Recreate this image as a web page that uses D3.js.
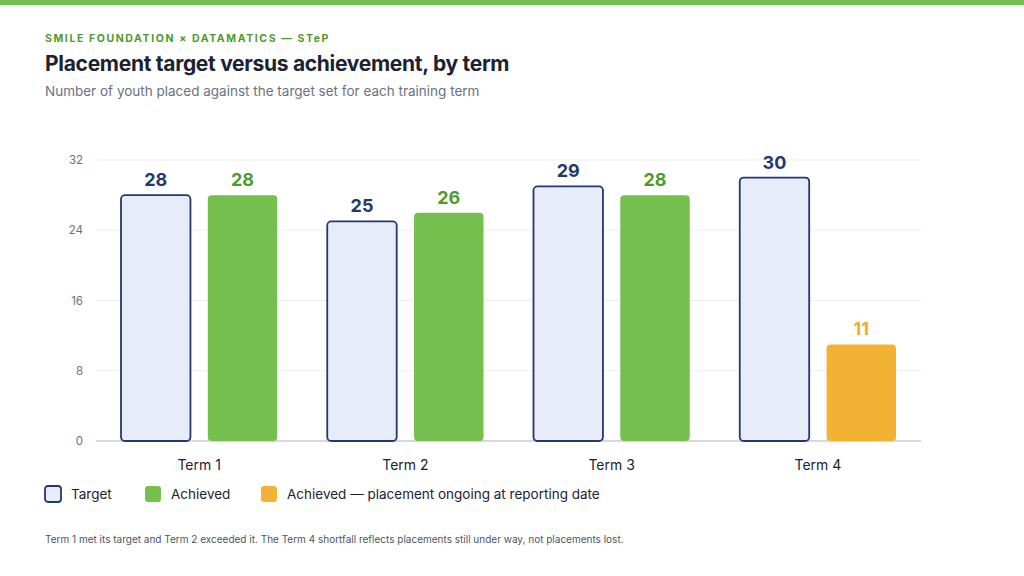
<!DOCTYPE html>
<html>
<head>
<meta charset="utf-8">
<title>Placement target versus achievement</title>
<script src="https://cdn.jsdelivr.net/npm/d3@7"></script>
<style>
  body { margin: 0; background: #fff; }
  text { font-family: Inter, "Open Sans", sans-serif; }
</style>
</head>
<body>
<div id="chart"></div>
<script>
// data
var terms = ["Term 1", "Term 2", "Term 3", "Term 4"];
var target = [28, 25, 29, 30];
var achieved = [28, 26, 28, 11];
var ongoing = [false, false, false, true];
var yTicks = [0, 8, 16, 24, 32];

var W = 1024, H = 576;
var svg = d3.select("#chart").append("svg").attr("width", W).attr("height", H);

svg.append("rect").attr("width", W).attr("height", 5).attr("fill", "#72bf4e");

svg.append("text").attr("x", 45).attr("y", 42).text("SMILE FOUNDATION × DATAMATICS — STeP")
  .attr("fill", "#4e9a2e").attr("font-size", 10.5).attr("font-weight", 700).attr("letter-spacing", 1.6);
svg.append("text").attr("x", 45).attr("y", 71).text("Placement target versus achievement, by term")
  .attr("fill", "#1b2233").attr("font-size", 21).attr("font-weight", 700).attr("letter-spacing", -0.3);
svg.append("text").attr("x", 45).attr("y", 96).text("Number of youth placed against the target set for each training term")
  .attr("fill", "#6b7280").attr("font-size", 13.5);

var x = d3.scaleBand().domain(terms).range([96, 921]);
var xi = d3.scaleBand().domain(["t", "a"]).range([25, x.bandwidth() - 25]).paddingInner(0.2);
var y = d3.scaleLinear().domain([0, 32]).range([441, 160]);

// grid + y labels
svg.append("g").selectAll("line").data(yTicks).join("line")
  .attr("x1", 96).attr("x2", 921).attr("y1", d => y(d)).attr("y2", d => y(d))
  .attr("stroke", d => d === 0 ? "#c8ccd2" : "#eceef1").attr("stroke-width", d => d === 0 ? 1.5 : 1);
svg.append("g").selectAll("text").data(yTicks).join("text")
  .attr("x", 83).attr("y", d => y(d) + 4).attr("text-anchor", "end")
  .attr("fill", "#6b7280").attr("font-size", 11.5).text(d => d);

var g = svg.append("g").selectAll("g").data(terms).join("g")
  .attr("transform", d => "translate(" + x(d) + ",0)");

g.append("rect")
  .attr("x", xi("t")).attr("width", xi.bandwidth())
  .attr("y", (d, i) => y(target[i])).attr("height", (d, i) => y(0) - y(target[i]))
  .attr("rx", 4).attr("fill", "#e8ecf8").attr("stroke", "#22386f").attr("stroke-width", 1.8);
g.append("rect")
  .attr("x", xi("a")).attr("width", xi.bandwidth())
  .attr("y", (d, i) => y(achieved[i])).attr("height", (d, i) => y(0) - y(achieved[i]))
  .attr("rx", 4).attr("fill", (d, i) => ongoing[i] ? "#f4b234" : "#75bf4f");

g.append("text")
  .attr("x", xi("t") + xi.bandwidth() / 2).attr("y", (d, i) => y(target[i]) - 9)
  .attr("text-anchor", "middle").attr("font-size", 18).attr("font-weight", 700)
  .attr("fill", "#22386f").text((d, i) => target[i]);
g.append("text")
  .attr("x", xi("a") + xi.bandwidth() / 2).attr("y", (d, i) => y(achieved[i]) - 9)
  .attr("text-anchor", "middle").attr("font-size", 18).attr("font-weight", 700)
  .attr("fill", (d, i) => ongoing[i] ? "#f0ae2c" : "#4e9a2e").text((d, i) => achieved[i]);

g.append("text")
  .attr("x", x.bandwidth() / 2).attr("y", 470).attr("text-anchor", "middle")
  .attr("font-size", 14).attr("fill", "#1b2233").text(d => d);

// legend
var legend = [
  { label: "Target", x: 45, fill: "#e8ecf8", stroke: "#22386f" },
  { label: "Achieved", x: 145, fill: "#75bf4f", stroke: "none" },
  { label: "Achieved — placement ongoing at reporting date", x: 261, fill: "#f4b234", stroke: "none" }
];
var lg = svg.append("g").selectAll("g").data(legend).join("g")
  .attr("transform", d => "translate(" + d.x + ",486)");
lg.append("rect").attr("width", 16).attr("height", 16).attr("rx", 3)
  .attr("fill", d => d.fill).attr("stroke", d => d.stroke).attr("stroke-width", 1.8);
lg.append("text").attr("x", 26).attr("y", 13).attr("font-size", 13.5).attr("fill", "#1b2233").text(d => d.label);

svg.append("text").attr("x", 45).attr("y", 543)
  .text("Term 1 met its target and Term 2 exceeded it. The Term 4 shortfall reflects placements still under way, not placements lost.")
  .attr("fill", "#4b5563").attr("font-size", 10);
</script>
</body>
</html>
